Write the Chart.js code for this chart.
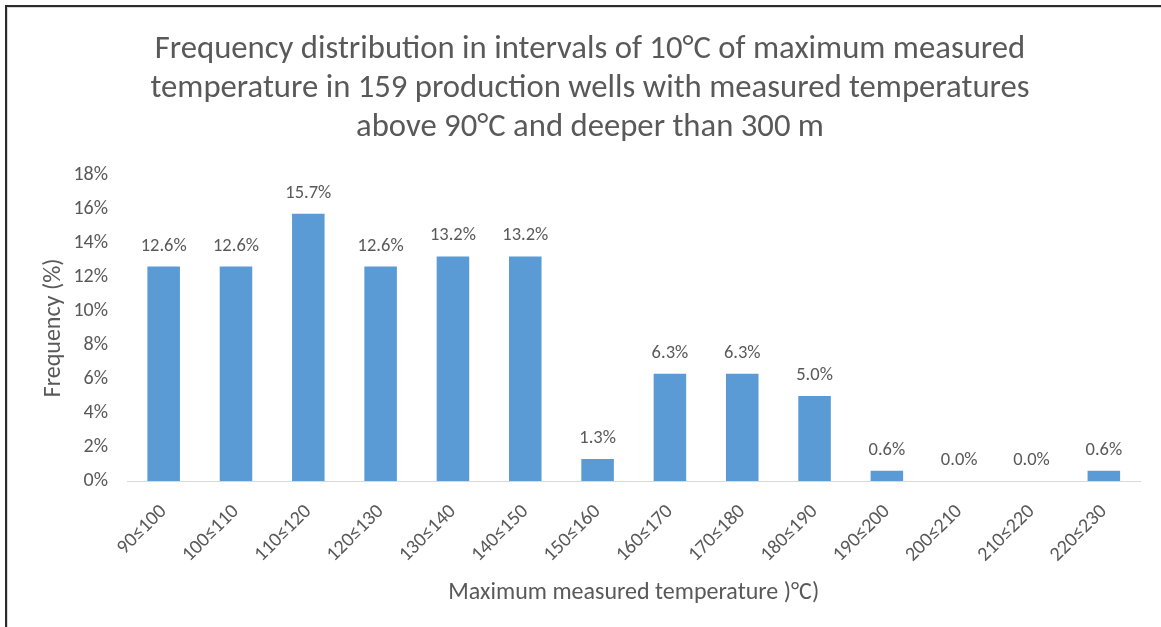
<!DOCTYPE html>
<html>
<head>
<meta charset="utf-8">
<script src="https://cdn.jsdelivr.net/npm/chart.js@4/dist/chart.umd.min.js"></script>
<style>
  html, body { margin: 0; padding: 0; background: #fff; overflow: hidden; }
  #wrap { position: relative; width: 1161px; height: 627px; }
  #frame {
    position: absolute; left: 5px; top: 5px; right: 0; bottom: 0;
    border-top: 2px solid #2b2b2b; border-left: 2px solid #2b2b2b;
    box-shadow: inset 1px 1px 0 #d8d8d8;
    pointer-events: none;
  }
  canvas { position: absolute; left: 0; top: 0; }
</style>
</head>
<body>
<div id="wrap">
  <canvas id="chart" width="1161" height="627"></canvas>
  <div id="frame"></div>
</div>
<script>
// Temperature classes (°C) and share of wells in each class (%)
const categories = ['90≤100', '100≤110', '110≤120', '120≤130', '130≤140', '140≤150', '150≤160',
                    '160≤170', '170≤180', '180≤190', '190≤200', '200≤210', '210≤220', '220≤230'];
const frequency = [12.6, 12.6, 15.7, 12.6, 13.2, 13.2, 1.3, 6.3, 6.3, 5.0, 0.6, 0.0, 0.0, 0.6];
const yTicks = [0, 2, 4, 6, 8, 10, 12, 14, 16, 18];

const titleLines = ['Frequency distribution in intervals of 10°C of maximum measured',
                    'temperature in 159 production wells with measured temperatures',
                    'above 90°C and deeper than 300 m'];
const xTitle = 'Maximum measured temperature )°C)';
const yTitle = 'Frequency (%)';

const FONT = "Carlito, Lato, 'Open Sans', sans-serif";
const TEXT = '#595959';
const BAR = '#5B9BD5';

// Value labels above each bar
const valueLabels = {
  id: 'valueLabels',
  afterDatasetsDraw(chart) {
    const ctx = chart.ctx;
    const meta = chart.getDatasetMeta(0);
    ctx.save();
    ctx.font = `18.5px ${FONT}`;
    ctx.fillStyle = TEXT;
    ctx.textAlign = 'center';
    ctx.textBaseline = 'alphabetic';
    meta.data.forEach((bar, i) => {
      const v = chart.data.datasets[0].data[i];
      ctx.fillText(v.toFixed(1) + '%', bar.x, bar.y - 16);
    });
    ctx.restore();
  }
};

new Chart(document.getElementById('chart'), {
  type: 'bar',
  data: {
    labels: categories,
    datasets: [{
      data: frequency,
      backgroundColor: BAR,
      borderWidth: 0,
      barPercentage: 0.45,
      categoryPercentage: 1.0
    }]
  },
  options: {
    responsive: false,
    animation: false,
    layout: { padding: { left: 40, right: 21, top: 0, bottom: 20 } },
    plugins: {
      legend: { display: false },
      tooltip: { enabled: false },
      title: {
        display: true,
        text: titleLines,
        color: TEXT,
        font: { family: FONT, size: 32.7, weight: 'normal', lineHeight: 1.2 },
        padding: { top: 30, bottom: 27 }
      }
    },
    scales: {
      x: {
        afterFit(scale) { scale.height = 126; },
        grid: { display: false, drawTicks: false },
        border: { display: true, color: '#d9d9d9', width: 1 },
        ticks: {
          color: TEXT,
          font: { family: FONT, size: 20 },
          minRotation: 45,
          maxRotation: 45,
          padding: 19,
          autoSkip: false
        },
        title: {
          display: true,
          text: xTitle,
          color: TEXT,
          font: { family: FONT, size: 24 },
          padding: 0
        }
      },
      y: {
        min: 0,
        max: 18,
        afterBuildTicks(scale) {
          scale.ticks = yTicks.map(v => ({ value: v }));
        },
        afterFit(scale) { scale.width = 87.5; },
        grid: { display: false, drawTicks: false },
        border: { display: false },
        ticks: {
          color: TEXT,
          font: { family: FONT, size: 20 },
          padding: 19.5,
          callback: v => v + '%'
        },
        title: {
          display: true,
          text: yTitle,
          color: TEXT,
          font: { family: FONT, size: 24 },
          padding: 0
        }
      }
    }
  },
  plugins: [valueLabels]
});
</script>
</body>
</html>
